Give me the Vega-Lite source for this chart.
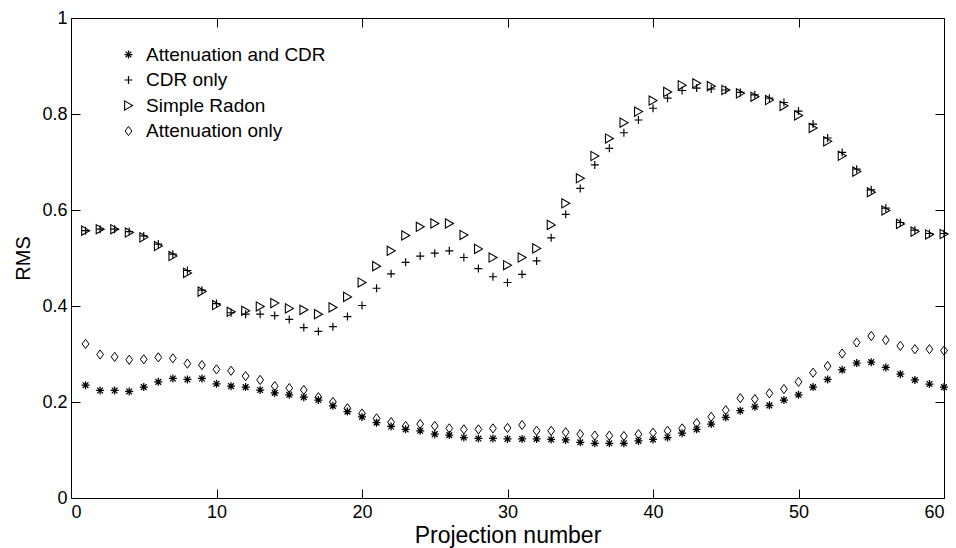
{
  "$schema": "https://vega.github.io/schema/vega-lite/v6.json",
  "width": 873,
  "height": 480,
  "autosize": {"type": "none"},
  "padding": {"left": 71, "top": 18, "right": 12, "bottom": 50},
  "background": "#ffffff",
  "config": {
    "font": "Liberation Sans",
    "view": {"stroke": "#000000", "strokeWidth": 1},
    "axis": {
      "grid": false,
      "domain": false,
      "tickColor": "#000000",
      "tickSize": -9,
      "labelColor": "#000000",
      "labelFontSize": 18,
      "labelFont": "Liberation Sans",
      "titleFont": "Liberation Sans",
      "titleFontWeight": "normal",
      "titleColor": "#000000"
    }
  },
  "data": {
    "values": [
      {"p": 1, "Attenuation and CDR": 0.235, "CDR only": 0.557, "Simple Radon": 0.557, "Attenuation only": 0.321},
      {"p": 2, "Attenuation and CDR": 0.224, "CDR only": 0.56, "Simple Radon": 0.56, "Attenuation only": 0.299},
      {"p": 3, "Attenuation and CDR": 0.224, "CDR only": 0.56, "Simple Radon": 0.56, "Attenuation only": 0.294},
      {"p": 4, "Attenuation and CDR": 0.222, "CDR only": 0.555, "Simple Radon": 0.553, "Attenuation only": 0.288},
      {"p": 5, "Attenuation and CDR": 0.231, "CDR only": 0.546, "Simple Radon": 0.543, "Attenuation only": 0.289},
      {"p": 6, "Attenuation and CDR": 0.242, "CDR only": 0.529, "Simple Radon": 0.525, "Attenuation only": 0.293},
      {"p": 7, "Attenuation and CDR": 0.249, "CDR only": 0.508, "Simple Radon": 0.504, "Attenuation only": 0.291},
      {"p": 8, "Attenuation and CDR": 0.247, "CDR only": 0.474, "Simple Radon": 0.469, "Attenuation only": 0.28},
      {"p": 9, "Attenuation and CDR": 0.249, "CDR only": 0.433, "Simple Radon": 0.43, "Attenuation only": 0.277},
      {"p": 10, "Attenuation and CDR": 0.238, "CDR only": 0.405, "Simple Radon": 0.402, "Attenuation only": 0.268},
      {"p": 11, "Attenuation and CDR": 0.233, "CDR only": 0.386, "Simple Radon": 0.388, "Attenuation only": 0.265},
      {"p": 12, "Attenuation and CDR": 0.231, "CDR only": 0.383, "Simple Radon": 0.39, "Attenuation only": 0.254},
      {"p": 13, "Attenuation and CDR": 0.225, "CDR only": 0.383, "Simple Radon": 0.399, "Attenuation only": 0.246},
      {"p": 14, "Attenuation and CDR": 0.219, "CDR only": 0.38, "Simple Radon": 0.406, "Attenuation only": 0.233},
      {"p": 15, "Attenuation and CDR": 0.215, "CDR only": 0.372, "Simple Radon": 0.395, "Attenuation only": 0.229},
      {"p": 16, "Attenuation and CDR": 0.21, "CDR only": 0.355, "Simple Radon": 0.392, "Attenuation only": 0.225},
      {"p": 17, "Attenuation and CDR": 0.204, "CDR only": 0.347, "Simple Radon": 0.383, "Attenuation only": 0.21},
      {"p": 18, "Attenuation and CDR": 0.192, "CDR only": 0.357, "Simple Radon": 0.397, "Attenuation only": 0.2},
      {"p": 19, "Attenuation and CDR": 0.18, "CDR only": 0.378, "Simple Radon": 0.419, "Attenuation only": 0.187},
      {"p": 20, "Attenuation and CDR": 0.169, "CDR only": 0.401, "Simple Radon": 0.449, "Attenuation only": 0.176},
      {"p": 21, "Attenuation and CDR": 0.157, "CDR only": 0.437, "Simple Radon": 0.483, "Attenuation only": 0.166},
      {"p": 22, "Attenuation and CDR": 0.149, "CDR only": 0.467, "Simple Radon": 0.515, "Attenuation only": 0.158},
      {"p": 23, "Attenuation and CDR": 0.143, "CDR only": 0.491, "Simple Radon": 0.547, "Attenuation only": 0.15},
      {"p": 24, "Attenuation and CDR": 0.14, "CDR only": 0.504, "Simple Radon": 0.565, "Attenuation only": 0.154},
      {"p": 25, "Attenuation and CDR": 0.133, "CDR only": 0.51, "Simple Radon": 0.572, "Attenuation only": 0.15},
      {"p": 26, "Attenuation and CDR": 0.131, "CDR only": 0.515, "Simple Radon": 0.572, "Attenuation only": 0.145},
      {"p": 27, "Attenuation and CDR": 0.126, "CDR only": 0.501, "Simple Radon": 0.548, "Attenuation only": 0.143},
      {"p": 28, "Attenuation and CDR": 0.124, "CDR only": 0.478, "Simple Radon": 0.519, "Attenuation only": 0.143},
      {"p": 29, "Attenuation and CDR": 0.124, "CDR only": 0.461, "Simple Radon": 0.501, "Attenuation only": 0.145},
      {"p": 30, "Attenuation and CDR": 0.123, "CDR only": 0.449, "Simple Radon": 0.485, "Attenuation only": 0.146},
      {"p": 31, "Attenuation and CDR": 0.123, "CDR only": 0.466, "Simple Radon": 0.501, "Attenuation only": 0.152},
      {"p": 32, "Attenuation and CDR": 0.123, "CDR only": 0.494, "Simple Radon": 0.52, "Attenuation only": 0.14},
      {"p": 33, "Attenuation and CDR": 0.122, "CDR only": 0.542, "Simple Radon": 0.569, "Attenuation only": 0.14},
      {"p": 34, "Attenuation and CDR": 0.121, "CDR only": 0.591, "Simple Radon": 0.614, "Attenuation only": 0.137},
      {"p": 35, "Attenuation and CDR": 0.116, "CDR only": 0.645, "Simple Radon": 0.666, "Attenuation only": 0.133},
      {"p": 36, "Attenuation and CDR": 0.114, "CDR only": 0.694, "Simple Radon": 0.7125, "Attenuation only": 0.13},
      {"p": 37, "Attenuation and CDR": 0.114, "CDR only": 0.7285, "Simple Radon": 0.749, "Attenuation only": 0.13},
      {"p": 38, "Attenuation and CDR": 0.114, "CDR only": 0.761, "Simple Radon": 0.782, "Attenuation only": 0.129},
      {"p": 39, "Attenuation and CDR": 0.119, "CDR only": 0.7875, "Simple Radon": 0.805, "Attenuation only": 0.133},
      {"p": 40, "Attenuation and CDR": 0.122, "CDR only": 0.812, "Simple Radon": 0.828, "Attenuation only": 0.136},
      {"p": 41, "Attenuation and CDR": 0.126, "CDR only": 0.833, "Simple Radon": 0.846, "Attenuation only": 0.14},
      {"p": 42, "Attenuation and CDR": 0.135, "CDR only": 0.849, "Simple Radon": 0.86, "Attenuation only": 0.145},
      {"p": 43, "Attenuation and CDR": 0.143, "CDR only": 0.854, "Simple Radon": 0.864, "Attenuation only": 0.156},
      {"p": 44, "Attenuation and CDR": 0.154, "CDR only": 0.852, "Simple Radon": 0.858, "Attenuation only": 0.169},
      {"p": 45, "Attenuation and CDR": 0.168, "CDR only": 0.85, "Simple Radon": 0.85, "Attenuation only": 0.183},
      {"p": 46, "Attenuation and CDR": 0.182, "CDR only": 0.845, "Simple Radon": 0.843, "Attenuation only": 0.208},
      {"p": 47, "Attenuation and CDR": 0.19, "CDR only": 0.84, "Simple Radon": 0.836, "Attenuation only": 0.206},
      {"p": 48, "Attenuation and CDR": 0.193, "CDR only": 0.833, "Simple Radon": 0.829, "Attenuation only": 0.218},
      {"p": 49, "Attenuation and CDR": 0.204, "CDR only": 0.824, "Simple Radon": 0.817, "Attenuation only": 0.227},
      {"p": 50, "Attenuation and CDR": 0.215, "CDR only": 0.806, "Simple Radon": 0.797, "Attenuation only": 0.242},
      {"p": 51, "Attenuation and CDR": 0.231, "CDR only": 0.779, "Simple Radon": 0.771, "Attenuation only": 0.261},
      {"p": 52, "Attenuation and CDR": 0.247, "CDR only": 0.75, "Simple Radon": 0.743, "Attenuation only": 0.275},
      {"p": 53, "Attenuation and CDR": 0.267, "CDR only": 0.72, "Simple Radon": 0.713, "Attenuation only": 0.301},
      {"p": 54, "Attenuation and CDR": 0.281, "CDR only": 0.685, "Simple Radon": 0.68, "Attenuation only": 0.324},
      {"p": 55, "Attenuation and CDR": 0.283, "CDR only": 0.642, "Simple Radon": 0.637, "Attenuation only": 0.3375},
      {"p": 56, "Attenuation and CDR": 0.272, "CDR only": 0.604, "Simple Radon": 0.599, "Attenuation only": 0.329},
      {"p": 57, "Attenuation and CDR": 0.258, "CDR only": 0.574, "Simple Radon": 0.571, "Attenuation only": 0.317},
      {"p": 58, "Attenuation and CDR": 0.246, "CDR only": 0.558, "Simple Radon": 0.555, "Attenuation only": 0.31},
      {"p": 59, "Attenuation and CDR": 0.2375, "CDR only": 0.551, "Simple Radon": 0.549, "Attenuation only": 0.31},
      {"p": 60, "Attenuation and CDR": 0.231, "CDR only": 0.551, "Simple Radon": 0.55, "Attenuation only": 0.307}
    ]
  },
  "transform": [
    {"fold": ["Attenuation and CDR", "CDR only", "Simple Radon", "Attenuation only"], "as": ["series", "rms"]}
  ],
  "layer": [
    {
      "mark": {"type": "point", "filled": false, "color": "#000000", "opacity": 1, "size": 100},
      "encoding": {
        "x": {
          "field": "p", "type": "quantitative",
          "scale": {"domain": [0, 60], "nice": false, "zero": false},
          "axis": {"values": [0, 10, 20, 30, 40, 50, 60], "title": "Projection number", "labelPadding": 14, "titlePadding": 3, "titleFontSize": 23}
        },
        "y": {
          "field": "rms", "type": "quantitative",
          "scale": {"domain": [0, 1], "nice": false},
          "axis": {"values": [0, 0.2, 0.4, 0.6, 0.8, 1], "format": "~g", "title": "RMS", "labelPadding": 13, "titlePadding": 8, "titleFontSize": 20}
        },
        "shape": {
          "field": "series", "type": "nominal",
          "scale": {
            "domain": ["Attenuation and CDR", "CDR only", "Simple Radon", "Attenuation only"],
            "range": [
              "M-0.8,0L0.8,0M0,-0.8L0,0.8M-0.57,-0.57L0.57,0.57M-0.57,0.57L0.57,-0.57",
              "M-0.8,0L0.8,0M0,-0.8L0,0.8",
              "M-0.78,-0.92L0.82,0L-0.78,0.92Z",
              "M0,-0.92L0.68,0L0,0.92L-0.68,0Z"
            ]
          },
          "legend": {
            "orient": "none", "legendX": 48, "legendY": 27, "title": null,
            "padding": 0, "labelFontSize": 19, "labelColor": "#000000", "labelFont": "Liberation Sans",
            "labelLimit": 400,
            "symbolSize": 100, "symbolStrokeColor": "#000000", "symbolFillColor": "transparent",
            "symbolStrokeWidth": 1, "labelOffset": 8, "rowPadding": 5.5
          }
        },
        "strokeWidth": {
          "field": "series", "type": "nominal",
          "scale": {
            "domain": ["Attenuation and CDR", "CDR only", "Simple Radon", "Attenuation only"],
            "range": [1.25, 1, 1, 1]
          },
          "legend": null
        }
      }
    },
    {
      "mark": {"type": "point", "opacity": 0},
      "encoding": {
        "x": {
          "field": "p", "type": "quantitative",
          "scale": {"domain": [0, 60], "nice": false, "zero": false},
          "axis": {"orient": "top", "values": [0, 10, 20, 30, 40, 50, 60], "labels": false, "title": null}
        },
        "y": {
          "field": "rms", "type": "quantitative",
          "scale": {"domain": [0, 1], "nice": false},
          "axis": {"orient": "right", "values": [0, 0.2, 0.4, 0.6, 0.8, 1], "labels": false, "title": null}
        }
      }
    }
  ],
  "resolve": {"axis": {"x": "independent", "y": "independent"}}
}
